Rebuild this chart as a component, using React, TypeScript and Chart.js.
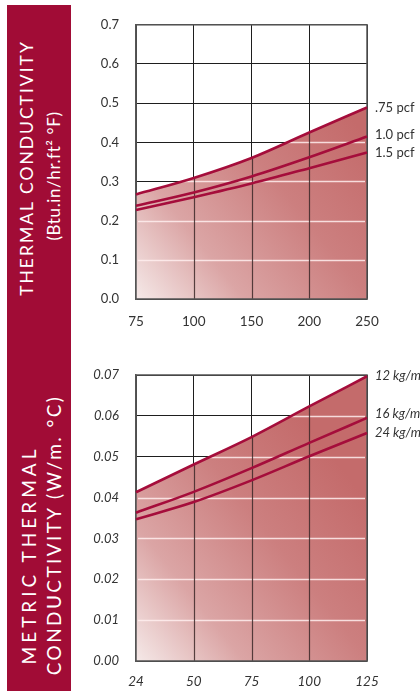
import { useEffect, useRef } from 'react';
import { Chart, registerables } from 'chart.js';

Chart.register(...registerables);

// ---------- Imperial chart (top) ----------
const imperialTemps = ['75', '100', '150', '200', '250'];
const imperialYTicks = [0, 0.1, 0.2, 0.3, 0.4, 0.5, 0.6, 0.7];
const imperialNames = ['.75 pcf', '1.0 pcf', '1.5 pcf'];
const imperialPcf075 = [0.267, 0.309, 0.36, 0.425, 0.489];
const imperialPcf100 = [0.238, 0.272, 0.313, 0.362, 0.415];
const imperialPcf150 = [0.227, 0.26, 0.295, 0.334, 0.374];

// ---------- Metric chart (bottom) ----------
const metricTemps = ['24', '50', '75', '100', '125'];
const metricYTicks = [0, 0.01, 0.02, 0.03, 0.04, 0.05, 0.06, 0.07];
const metricNames = ['12 kg/m³', '16 kg/m³', '24 kg/m³'];
const metricKg12 = [0.0413, 0.0481, 0.0548, 0.0623, 0.0697];
const metricKg16 = [0.0363, 0.0414, 0.0472, 0.0534, 0.0595];
const metricKg24 = [0.0347, 0.0389, 0.0442, 0.0501, 0.0558];

const FONT = 'Lato, "Open Sans", "DejaVu Sans", sans-serif';
const LINE = '#a50d3b';
const BAND = '#a10c36';
const TEXT = '#333333';

type Spec = {
  labels: string[];
  names: string[];
  series: number[][];
  yTicks: number[];
  decimals: number;
  italic: boolean;
  yFont: number;
  xFont: number;
  labelFont: number;
  xPad: number;
  yPad: number;
  padTop: number;
  xHeight: number;
  labelOffsets: number[];
};

function makeAreaPlugin() {
  return {
    id: 'areaFill',
    beforeDatasetsDraw(chart: any) {
      const { ctx, chartArea: a, scales } = chart;
      const line = chart.getDatasetMeta(0).dataset;
      line.updateControlPoints(a, 'x');
      ctx.save();
      ctx.beginPath();
      line.path(ctx);
      ctx.lineTo(a.right, a.bottom);
      ctx.lineTo(a.left, a.bottom);
      ctx.closePath();
      const L = Math.min(a.width, a.height) * 0.95;
      const g = ctx.createLinearGradient(a.left, a.bottom, a.left + L, a.bottom - L * 0.8);
      g.addColorStop(0, '#f5e9e8');
      g.addColorStop(0.3, '#dba5a5');
      g.addColorStop(0.65, '#cc7f7f');
      g.addColorStop(1, '#c46b6b');
      ctx.fillStyle = g;
      ctx.fill();
      ctx.clip();
      const y = scales.y;
      ctx.strokeStyle = 'rgba(255,238,238,0.85)';
      ctx.lineWidth = 1.4;
      for (let i = 1; i < y.ticks.length - 1; i++) {
        const py = Math.round(y.getPixelForTick(i)) + 0.5;
        ctx.beginPath();
        ctx.moveTo(a.left + 2, py);
        ctx.lineTo(a.right - 2, py);
        ctx.stroke();
      }
      const x = scales.x;
      ctx.strokeStyle = 'rgba(60,40,40,0.85)';
      ctx.lineWidth = 1.2;
      for (let i = 1; i < x.ticks.length - 1; i++) {
        const px = Math.round(x.getPixelForTick(i)) + 0.5;
        ctx.beginPath();
        ctx.moveTo(px, a.top);
        ctx.lineTo(px, a.bottom);
        ctx.stroke();
      }
      ctx.restore();
      ctx.save();
      ctx.strokeStyle = '#555';
      ctx.lineWidth = 1.5;
      ctx.strokeRect(a.left, a.top, a.width, a.height);
      ctx.restore();
    },
  };
}

function makeLabelPlugin(spec: Spec) {
  return {
    id: 'endLabels',
    afterDatasetsDraw(chart: any) {
      const { ctx, chartArea: a } = chart;
      ctx.save();
      ctx.font = `${spec.italic ? 'italic ' : ''}${spec.labelFont}px ${FONT}`;
      ctx.fillStyle = TEXT;
      ctx.textAlign = 'left';
      ctx.textBaseline = 'middle';
      chart.data.datasets.forEach((ds: any, i: number) => {
        const meta = chart.getDatasetMeta(i);
        const pt = meta.data[meta.data.length - 1];
        ctx.fillText(ds.label, a.right + 8, pt.y + spec.labelOffsets[i]);
      });
      ctx.restore();
    },
  };
}

function buildConfig(spec: Spec): any {
  const style = spec.italic ? 'italic' : 'normal';
  return {
    type: 'line',
    data: {
      labels: spec.labels,
      datasets: spec.series.map((d, i) => ({
        label: spec.names[i],
        data: d,
        borderColor: LINE,
        borderWidth: 2.6,
        pointRadius: 0,
        fill: false,
        cubicInterpolationMode: 'monotone',
      })),
    },
    options: {
      responsive: false,
      animation: false,
      layout: { padding: { top: spec.padTop, right: 53, left: 0, bottom: 0 } },
      plugins: { legend: { display: false }, tooltip: { enabled: false } },
      scales: {
        x: {
          type: 'category',
          offset: false,
          grid: { color: '#1e1e1e', lineWidth: 1, drawTicks: false },
          border: { display: true, color: '#555', width: 1.5 },
          ticks: {
            padding: spec.xPad,
            color: TEXT,
            maxRotation: 0,
            autoSkip: false,
            font: { family: FONT, size: spec.xFont, style },
          },
          afterFit: (sc: any) => {
            sc.height = spec.xHeight;
          },
        },
        y: {
          min: spec.yTicks[0],
          max: spec.yTicks[spec.yTicks.length - 1],
          grid: { color: '#1e1e1e', lineWidth: 1, drawTicks: false },
          border: { display: true, color: '#555', width: 1.5 },
          ticks: {
            padding: spec.yPad,
            color: TEXT,
            font: { family: FONT, size: spec.yFont, style },
            callback: (v: any) => Number(v).toFixed(spec.decimals),
          },
          afterBuildTicks: (sc: any) => {
            sc.ticks = spec.yTicks.map((v) => ({ value: v }));
          },
          afterFit: (sc: any) => {
            sc.width = 64;
          },
        },
      },
    },
    plugins: [makeAreaPlugin(), makeLabelPlugin(spec)],
  };
}

const topSpec: Spec = {
  labels: imperialTemps,
  names: imperialNames,
  series: [imperialPcf075, imperialPcf100, imperialPcf150],
  yTicks: imperialYTicks,
  decimals: 1,
  italic: false,
  yFont: 13,
  xFont: 13.5,
  labelFont: 13,
  xPad: 15,
  yPad: 17,
  padTop: 14,
  xHeight: 41,
  labelOffsets: [0, -2, 0],
};

const bottomSpec: Spec = {
  labels: metricTemps,
  names: metricNames,
  series: [metricKg12, metricKg16, metricKg24],
  yTicks: metricYTicks,
  decimals: 2,
  italic: true,
  yFont: 13,
  xFont: 13.5,
  labelFont: 13,
  xPad: 13,
  yPad: 17,
  padTop: 35,
  xHeight: 31,
  labelOffsets: [0, -4, 0],
};

function ThermalChart({ spec, width, height }: { spec: Spec; width: number; height: number }) {
  const ref = useRef<HTMLCanvasElement>(null);
  useEffect(() => {
    const chart = new Chart(ref.current as HTMLCanvasElement, buildConfig(spec));
    return () => chart.destroy();
  }, [spec]);
  return <canvas ref={ref} width={width} height={height} style={{ display: 'block', width, height }} />;
}

function BandText({ text, cx, cy, size, spacing }: { text: string; cx: number; cy: number; size: number; spacing: number }) {
  return (
    <div
      style={{
        position: 'absolute',
        left: cx,
        top: cy,
        transform: 'translate(-50%, -50%) rotate(-90deg)',
        whiteSpace: 'nowrap',
        color: '#ffffff',
        fontFamily: FONT,
        fontSize: size,
        lineHeight: `${size}px`,
        letterSpacing: spacing,
      }}
    >
      {text}
    </div>
  );
}

export default function App() {
  return (
    <div style={{ position: 'absolute', left: 0, top: 0, width: 420, height: 692, background: '#fff', overflow: 'hidden' }}>
      <div style={{ position: 'absolute', left: 7, top: 5, width: 64, height: 686, background: BAND }} />
      <BandText text="THERMAL CONDUCTIVITY" cx={27} cy={168} size={17.5} spacing={2} />
      <BandText text="(Btu.in/hr.ft² °F)" cx={53} cy={176} size={17} spacing={0.6} />
      <BandText text="METRIC THERMAL" cx={28} cy={555} size={19} spacing={4} />
      <BandText text="CONDUCTIVITY (W/m. °C)" cx={53} cy={535} size={19} spacing={2.4} />
      <div style={{ position: 'absolute', left: 72, top: 0 }}>
        <ThermalChart spec={topSpec} width={348} height={340} />
      </div>
      <div style={{ position: 'absolute', left: 72, top: 340 }}>
        <ThermalChart spec={bottomSpec} width={348} height={352} />
      </div>
    </div>
  );
}
